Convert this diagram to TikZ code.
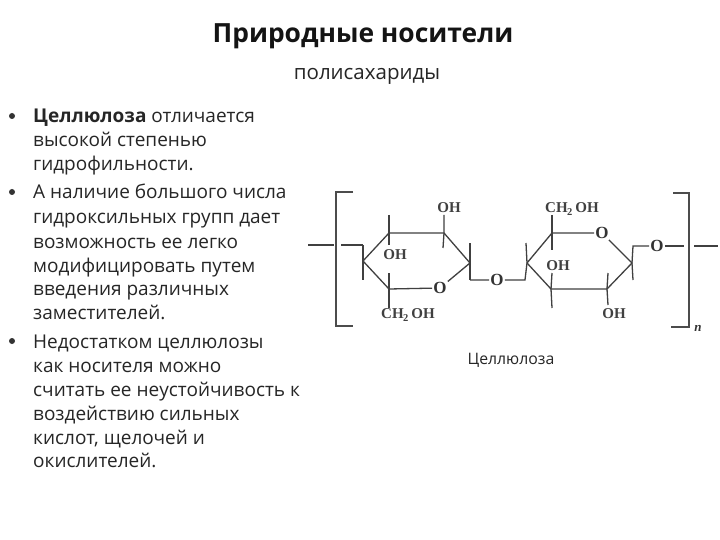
\documentclass[tikz,border=0pt]{standalone}
\usepackage{fontspec}
\setmainfont{Open Sans}
\newfontfamily\chem{Liberation Serif}
\tikzset{
  x=1pt,y=-1pt,
  txt/.style={inner sep=0pt,anchor=base west,font=\fontsize{19}{22}\selectfont,text=black!85},
  bul/.style={circle,fill=black!80,inner sep=0pt,minimum size=6pt},
  lbl/.style={inner sep=0pt,font=\chem\bfseries\fontsize{15}{16}\selectfont,text=black!75},
  oat/.style={inner sep=1pt,font=\chem\bfseries\fontsize{17}{17}\selectfont,text=black!80},
  bond/.style={draw=black!75,line width=1.3pt},
  brk/.style={draw=black!70,line width=1.7pt}
}
\begin{document}
\begin{tikzpicture}
\useasboundingbox (0,0) rectangle (720,540);
\fill[white] (0,0) rectangle (720,540);
\node[inner sep=0pt,font=\bfseries\fontsize{26.4}{30}\selectfont,text=black!92] (title) at (363,36) {Природные носители};
\node[inner sep=0pt,font=\fontsize{20.5}{22}\selectfont,text=black!85] (sub) at (367,76) {полисахариды};
\node[bul] (b1) at (12,116) {};
\node[bul] (b2) at (12,192) {};
\node[bul] (b3) at (12,341) {};
\node[txt] (l1) at (33,123) {\textbf{Целлюлоза} отличается};
\node[txt] (l2) at (33,147) {высокой степенью};
\node[txt] (l3) at (33,171) {гидрофильности.};
\node[txt] (l4) at (33,199) {А наличие большого числа};
\node[txt] (l5) at (33,224) {гидроксильных групп дает};
\node[txt] (l6) at (33,248) {возможность ее легко};
\node[txt] (l7) at (33,272) {модифицировать путем};
\node[txt] (l8) at (33,295) {введения различных};
\node[txt] (l9) at (33,319) {заместителей.};
\node[txt] (l10) at (33,348) {Недостатком целлюлозы};
\node[txt] (l11) at (33,372) {как носителя можно};
\node[txt] (l12) at (33,396) {считать ее неустойчивость к};
\node[txt] (l13) at (33,420) {воздействию сильных};
\node[txt] (l14) at (33,444) {кислот, щелочей и};
\node[txt] (l15) at (33,467) {окислителей.};
\node[inner sep=0pt,font=\fontsize{15.8}{18}\selectfont,text=black!85] (cap) at (511,360) {Целлюлоза};
% brackets
\draw[brk] (353,192) -- (336,192) -- (336,326) -- (353,326);
\draw[brk] (673,193) -- (689,193) -- (689,327) -- (671,327);
\node[inner sep=0pt,font=\chem\itshape\bfseries\fontsize{13}{13}\selectfont,text=black!80] (n) at (698,328) {n};
% left ring
\coordinate (a1) at (363,261);
\coordinate (a2) at (389,233);
\coordinate (a3) at (444,233);
\coordinate (a4) at (470,263);
\coordinate (a6) at (389,289);
\node[oat] (ao) at (440,288) {O};
\draw[bond] (a1) -- (a2) -- (a3) -- (a4) -- (ao) -- (a6) -- (a1);
\draw[bond] (389,215) -- (a2) -- (389,245);
\node[lbl] (aoh1) at (395,255) {OH};
\draw[bond] (444,215) -- (a3) -- (443,248);
\node[lbl] (aoh2) at (449,208) {OH};
\draw[bond] (389,273) -- (a6) -- (389,308);
\node[lbl] (ach) at (408,315) {CH\textsubscript{\kern-0.5pt 2}\,OH};
\draw[bond] (363,245) -- (a1) -- (363,280);
\draw[bond] (470,243) -- (a4) -- (470,280);
% linking
\coordinate (s1) at (308,245);
\coordinate (s2) at (334,245);
\coordinate (s3) at (341,245);
\coordinate (s4) at (363,245);
\draw[bond] (s1) -- (s2);
\draw[bond] (s3) -- (s4);
\node[oat] (om) at (497,280) {O};
\coordinate (b1) at (527,263);
\draw[bond] (470,280) -- (om) -- (525,280) -- (b1);
% right ring
\coordinate (b2) at (552,233);
\node[oat] (bo) at (602,233) {O};
\coordinate (b4) at (632,263);
\coordinate (b5) at (607,289);
\coordinate (b6) at (551,289);
\draw[bond] (b1) -- (b2) -- (bo) -- (b4) -- (b5) -- (b6) -- (b1);
\draw[bond] (526,243) -- (b1);
\draw[bond] (552,215) -- (b2) -- (552,250);
\node[lbl] (bch) at (572,209) {CH\textsubscript{\kern-0.5pt 2}\,OH};
\draw[bond] (552,273) -- (b6) -- (552,308);
\node[lbl] (boh1) at (558,266) {OH};
\draw[bond] (608,273) -- (b5) -- (608,305);
\node[lbl] (boh2) at (614,314) {OH};
\node[oat] (op) at (657,246) {O};
\draw[bond] (633,280) -- (b4) -- (633,246) -- (op);
\coordinate (t1) at (684,246);
\coordinate (t2) at (694,246);
\coordinate (t3) at (718,246);
\draw[bond] (op) -- (t1);
\draw[bond] (t2) -- (t3);
\end{tikzpicture}
\end{document}
